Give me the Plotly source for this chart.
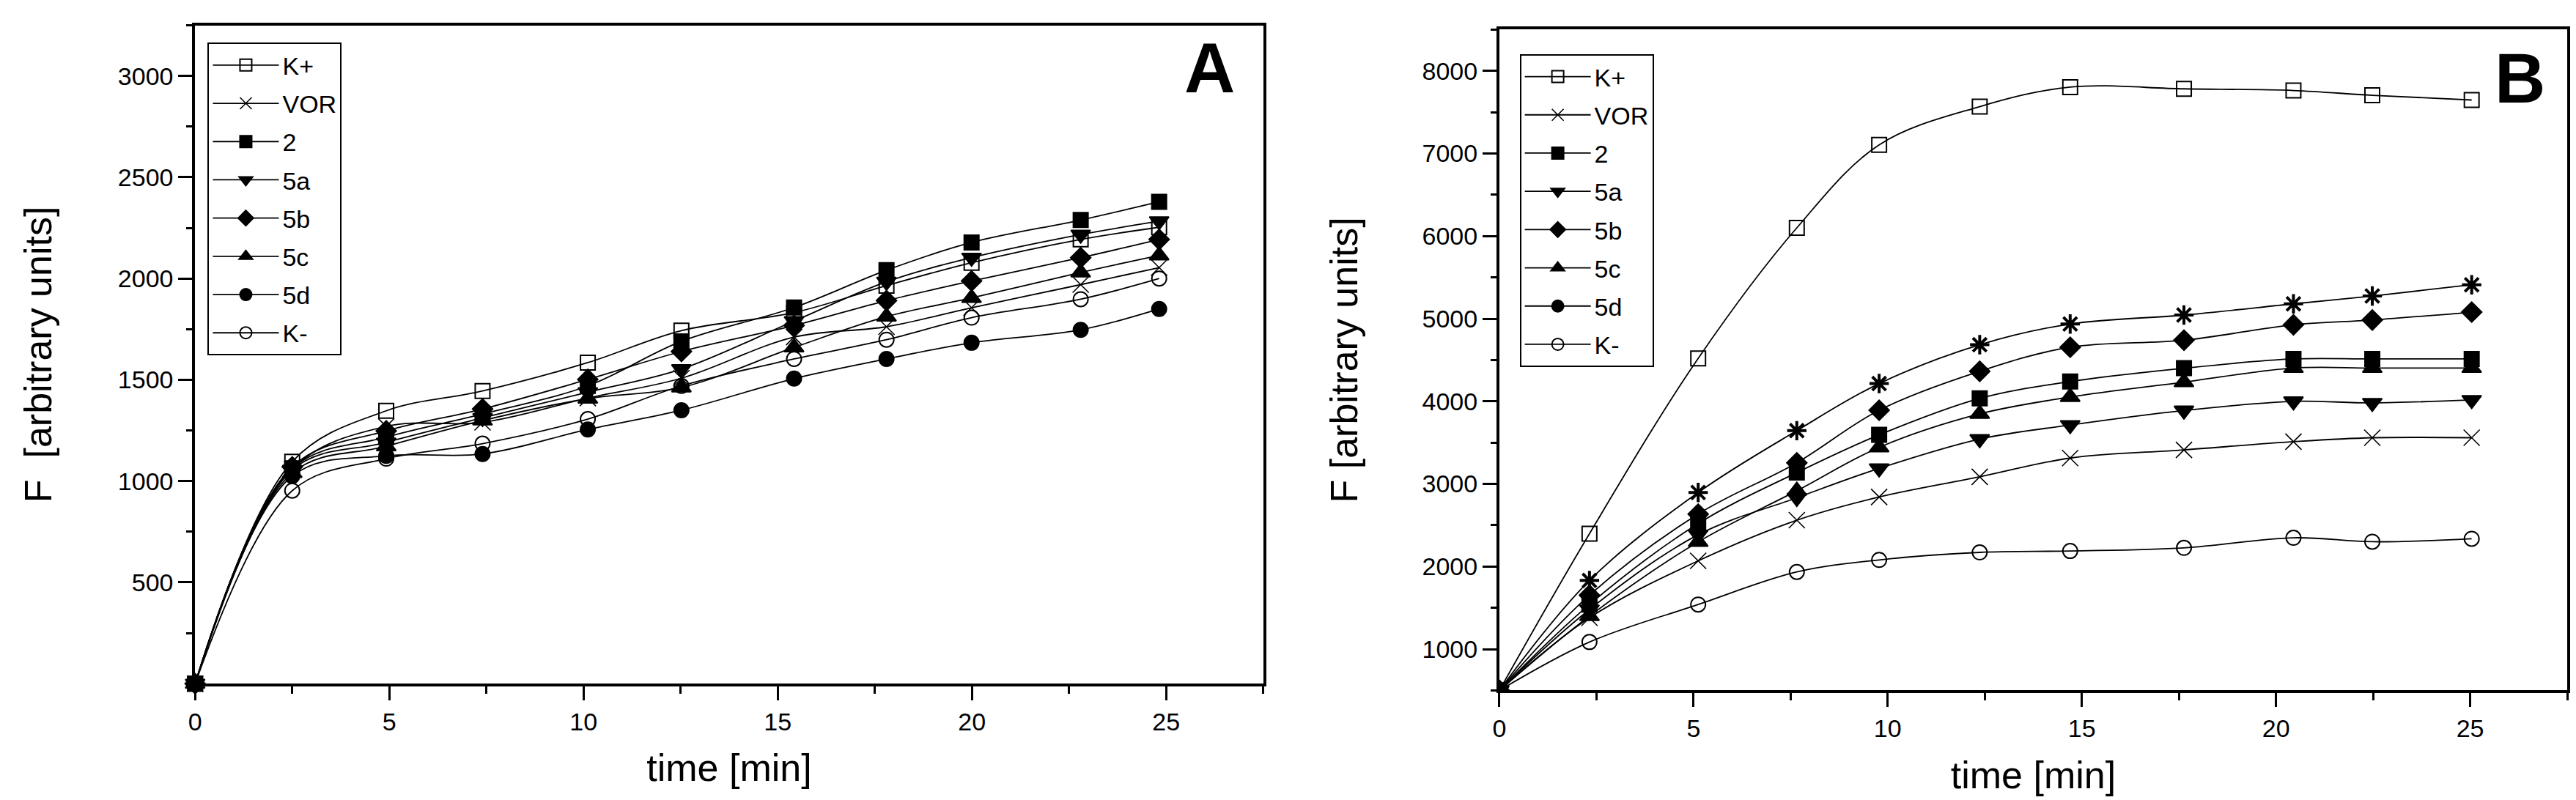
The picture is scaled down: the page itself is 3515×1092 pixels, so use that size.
import plotly.graph_objects as go

# panel A: time points and intensities
time_a = [0, 2.5, 4.92, 7.4, 10.11, 12.52, 15.42, 17.8, 19.99, 22.8, 24.82]
kplus_a = [0, 1096, 1347, 1445, 1585, 1743, 1832, 1965, 2078, 2193, 2253]
vor_a = [0, 1060, 1270, 1290, 1410, 1508, 1711, 1762, 1856, 1970, 2054]
c2_a = [0, 1063, 1217, 1331, 1470, 1690, 1857, 2041, 2178, 2289, 2379]
c5a_a = [0, 1056, 1191, 1312, 1439, 1553, 1790, 1984, 2103, 2217, 2283]
c5b_a = [0, 1070, 1248, 1356, 1502, 1640, 1768, 1891, 1988, 2103, 2193]
c5c_a = [0, 1040, 1172, 1299, 1407, 1462, 1660, 1812, 1904, 2030, 2114]
c5d_a = [0, 1025, 1125, 1134, 1255, 1350, 1506, 1603, 1683, 1747, 1850]
kminus_a = [0, 953, 1111, 1185, 1306, 1470, 1603, 1698, 1807, 1898, 2000]

# panel B
time_b = [0, 2.32, 5.12, 7.66, 9.78, 12.37, 14.70, 17.63, 20.45, 22.48, 25.04]
kplus_b = [500, 2398, 4520, 6100, 7105, 7568, 7804, 7783, 7763, 7705, 7648]
vor_b = [500, 1380, 2069, 2561, 2842, 3086, 3313, 3412, 3511, 3559, 3559]
c2_b = [500, 1540, 2520, 3137, 3594, 4035, 4239, 4401, 4513, 4513, 4513]
c5a_b = [500, 1480, 2385, 2832, 3188, 3543, 3713, 3889, 4000, 3981, 4017]
c5b_b = [500, 1653, 2635, 3256, 3892, 4363, 4655, 4740, 4926, 4984, 5080]
c5c_b = [500, 1400, 2298, 2917, 3442, 3848, 4052, 4232, 4403, 4403, 4403]
c5d_b = [500, 1831, 2896, 3645, 4215, 4685, 4936, 5045, 5180, 5275, 5411]
kminus_b = [500, 1086, 1540, 1934, 2080, 2171, 2188, 2226, 2348, 2300, 2336]

names = ["K+", "VOR", "2", "5a", "5b", "5c", "5d", "K-"]
symbols = ["square-open", "x-thin-open", "square", "triangle-down",
           "diamond", "triangle-up", "circle", "circle-open"]
sizes = [20, 22, 20, 23, 21, 23, 20, 20]

series_a = [kplus_a, vor_a, c2_a, c5a_a, c5b_a, c5c_a, c5d_a, kminus_a]
series_b = [kplus_b, vor_b, c2_b, c5a_b, c5b_b, c5c_b, c5d_b, kminus_b]

FONT = "Liberation Sans, Arial, sans-serif"

fig = go.Figure()


def marker_for(sym, size):
    lw = 1.6 if sym == "x-thin-open" else 2
    return dict(symbol=sym, size=size, color="black",
                line=dict(color="black", width=lw))


# panel A
for name, sym, size, ys in zip(names, symbols, sizes, series_a):
    fig.add_trace(go.Scatter(
        x=time_a, y=ys, name=name, mode="lines+markers",
        line=dict(color="black", width=1.8, shape="spline"),
        marker=marker_for(sym, size), cliponaxis=False,
        xaxis="x", yaxis="y", legend="legend", legendgroup="A" + name,
    ))

# panel B (5d drawn with star markers, legend keeps the circle)
for name, sym, size, ys in zip(names, symbols, sizes, series_b):
    if name == "5d":
        fig.add_trace(go.Scatter(
            x=time_b, y=ys, name=name, mode="lines+markers",
            line=dict(color="black", width=1.8, shape="spline"),
            marker=dict(symbol="asterisk-open", size=22,
                        line=dict(color="black", width=4)),
            xaxis="x2", yaxis="y2", showlegend=False,
        ))
        fig.add_trace(go.Scatter(
            x=[None], y=[None], name=name, mode="lines+markers",
            line=dict(color="black", width=1.8),
            marker=marker_for(sym, size),
            xaxis="x2", yaxis="y2", legend="legend2", legendgroup="B" + name,
        ))
        continue
    fig.add_trace(go.Scatter(
        x=time_b, y=ys, name=name, mode="lines+markers",
        line=dict(color="black", width=1.8, shape="spline"),
        marker=marker_for(sym, size),
        xaxis="x2", yaxis="y2", legend="legend2", legendgroup="B" + name,
    ))

xcommon = dict(
    range=[0, 27.5], tick0=0, dtick=5, ticks="outside", ticklen=19,
    tickwidth=3, tickcolor="black",
    minor=dict(dtick=2.5, tick0=0, ticks="outside", ticklen=10,
               tickwidth=3, tickcolor="black"),
    showline=True, linewidth=4, linecolor="black", mirror=True,
    showgrid=False, zeroline=False,
    tickfont=dict(family=FONT, size=34, color="black"),
)
ycommon = dict(
    ticks="outside", ticklen=19, tickwidth=3, tickcolor="black",
    showline=True, linewidth=4, linecolor="black", mirror=True,
    showgrid=False, zeroline=False,
    tickfont=dict(family=FONT, size=34, color="black"),
)

fig.update_layout(
    width=3515, height=1092,
    margin=dict(l=0, r=0, t=0, b=0),
    paper_bgcolor="white", plot_bgcolor="white",
    font=dict(family=FONT, color="black"),
    xaxis=dict(xcommon, domain=[0.0711, 0.4868], anchor="y",
               title=dict(text="time [min]", font=dict(size=52), standoff=28)),
    yaxis=dict(ycommon, domain=[0.1527, 0.9757], anchor="x",
               range=[0, 3250],
               tickvals=[500, 1000, 1500, 2000, 2500, 3000],
               minor=dict(tickmode="linear", tick0=0, dtick=250,
                         ticks="outside", ticklen=8, tickwidth=3,
                         tickcolor="black"),
               title=dict(text="F\u00a0\u00a0[arbitrary units]",
                          font=dict(size=52), standoff=75)),
    xaxis2=dict(xcommon, domain=[0.5787, 0.9943], anchor="y2",
                title=dict(text="time [min]", font=dict(size=52), standoff=28)),
    yaxis2=dict(ycommon, domain=[0.1443, 0.9703], anchor="x2",
                range=[500, 8500], tick0=0, dtick=1000,
                minor=dict(tick0=0, dtick=500, ticks="outside", ticklen=8,
                           tickwidth=3, tickcolor="black"),
                title=dict(text="F [arbitrary units]",
                           font=dict(size=52), standoff=72)),
    legend=dict(x=0.076, y=0.954, xanchor="left", yanchor="top",
                bordercolor="black", borderwidth=2, bgcolor="white",
                font=dict(family=FONT, size=34, color="black"),
                traceorder="grouped", tracegroupgap=5, itemwidth=90),
    legend2=dict(x=0.5866, y=0.9396, xanchor="left", yanchor="top",
                 bordercolor="black", borderwidth=2, bgcolor="white",
                 font=dict(family=FONT, size=34, color="black"),
                 traceorder="grouped", tracegroupgap=5, itemwidth=90),
    annotations=[
        dict(text="A", x=0.466, y=0.923, xref="paper", yref="paper",
             xanchor="center", yanchor="middle", showarrow=False,
             font=dict(family=FONT, size=96, color="black", weight="bold")),
        dict(text="B", x=0.9758, y=0.9098, xref="paper", yref="paper",
             xanchor="center", yanchor="middle", showarrow=False,
             font=dict(family=FONT, size=96, color="black", weight="bold")),
    ],
)

fig.write_html("out.html")
